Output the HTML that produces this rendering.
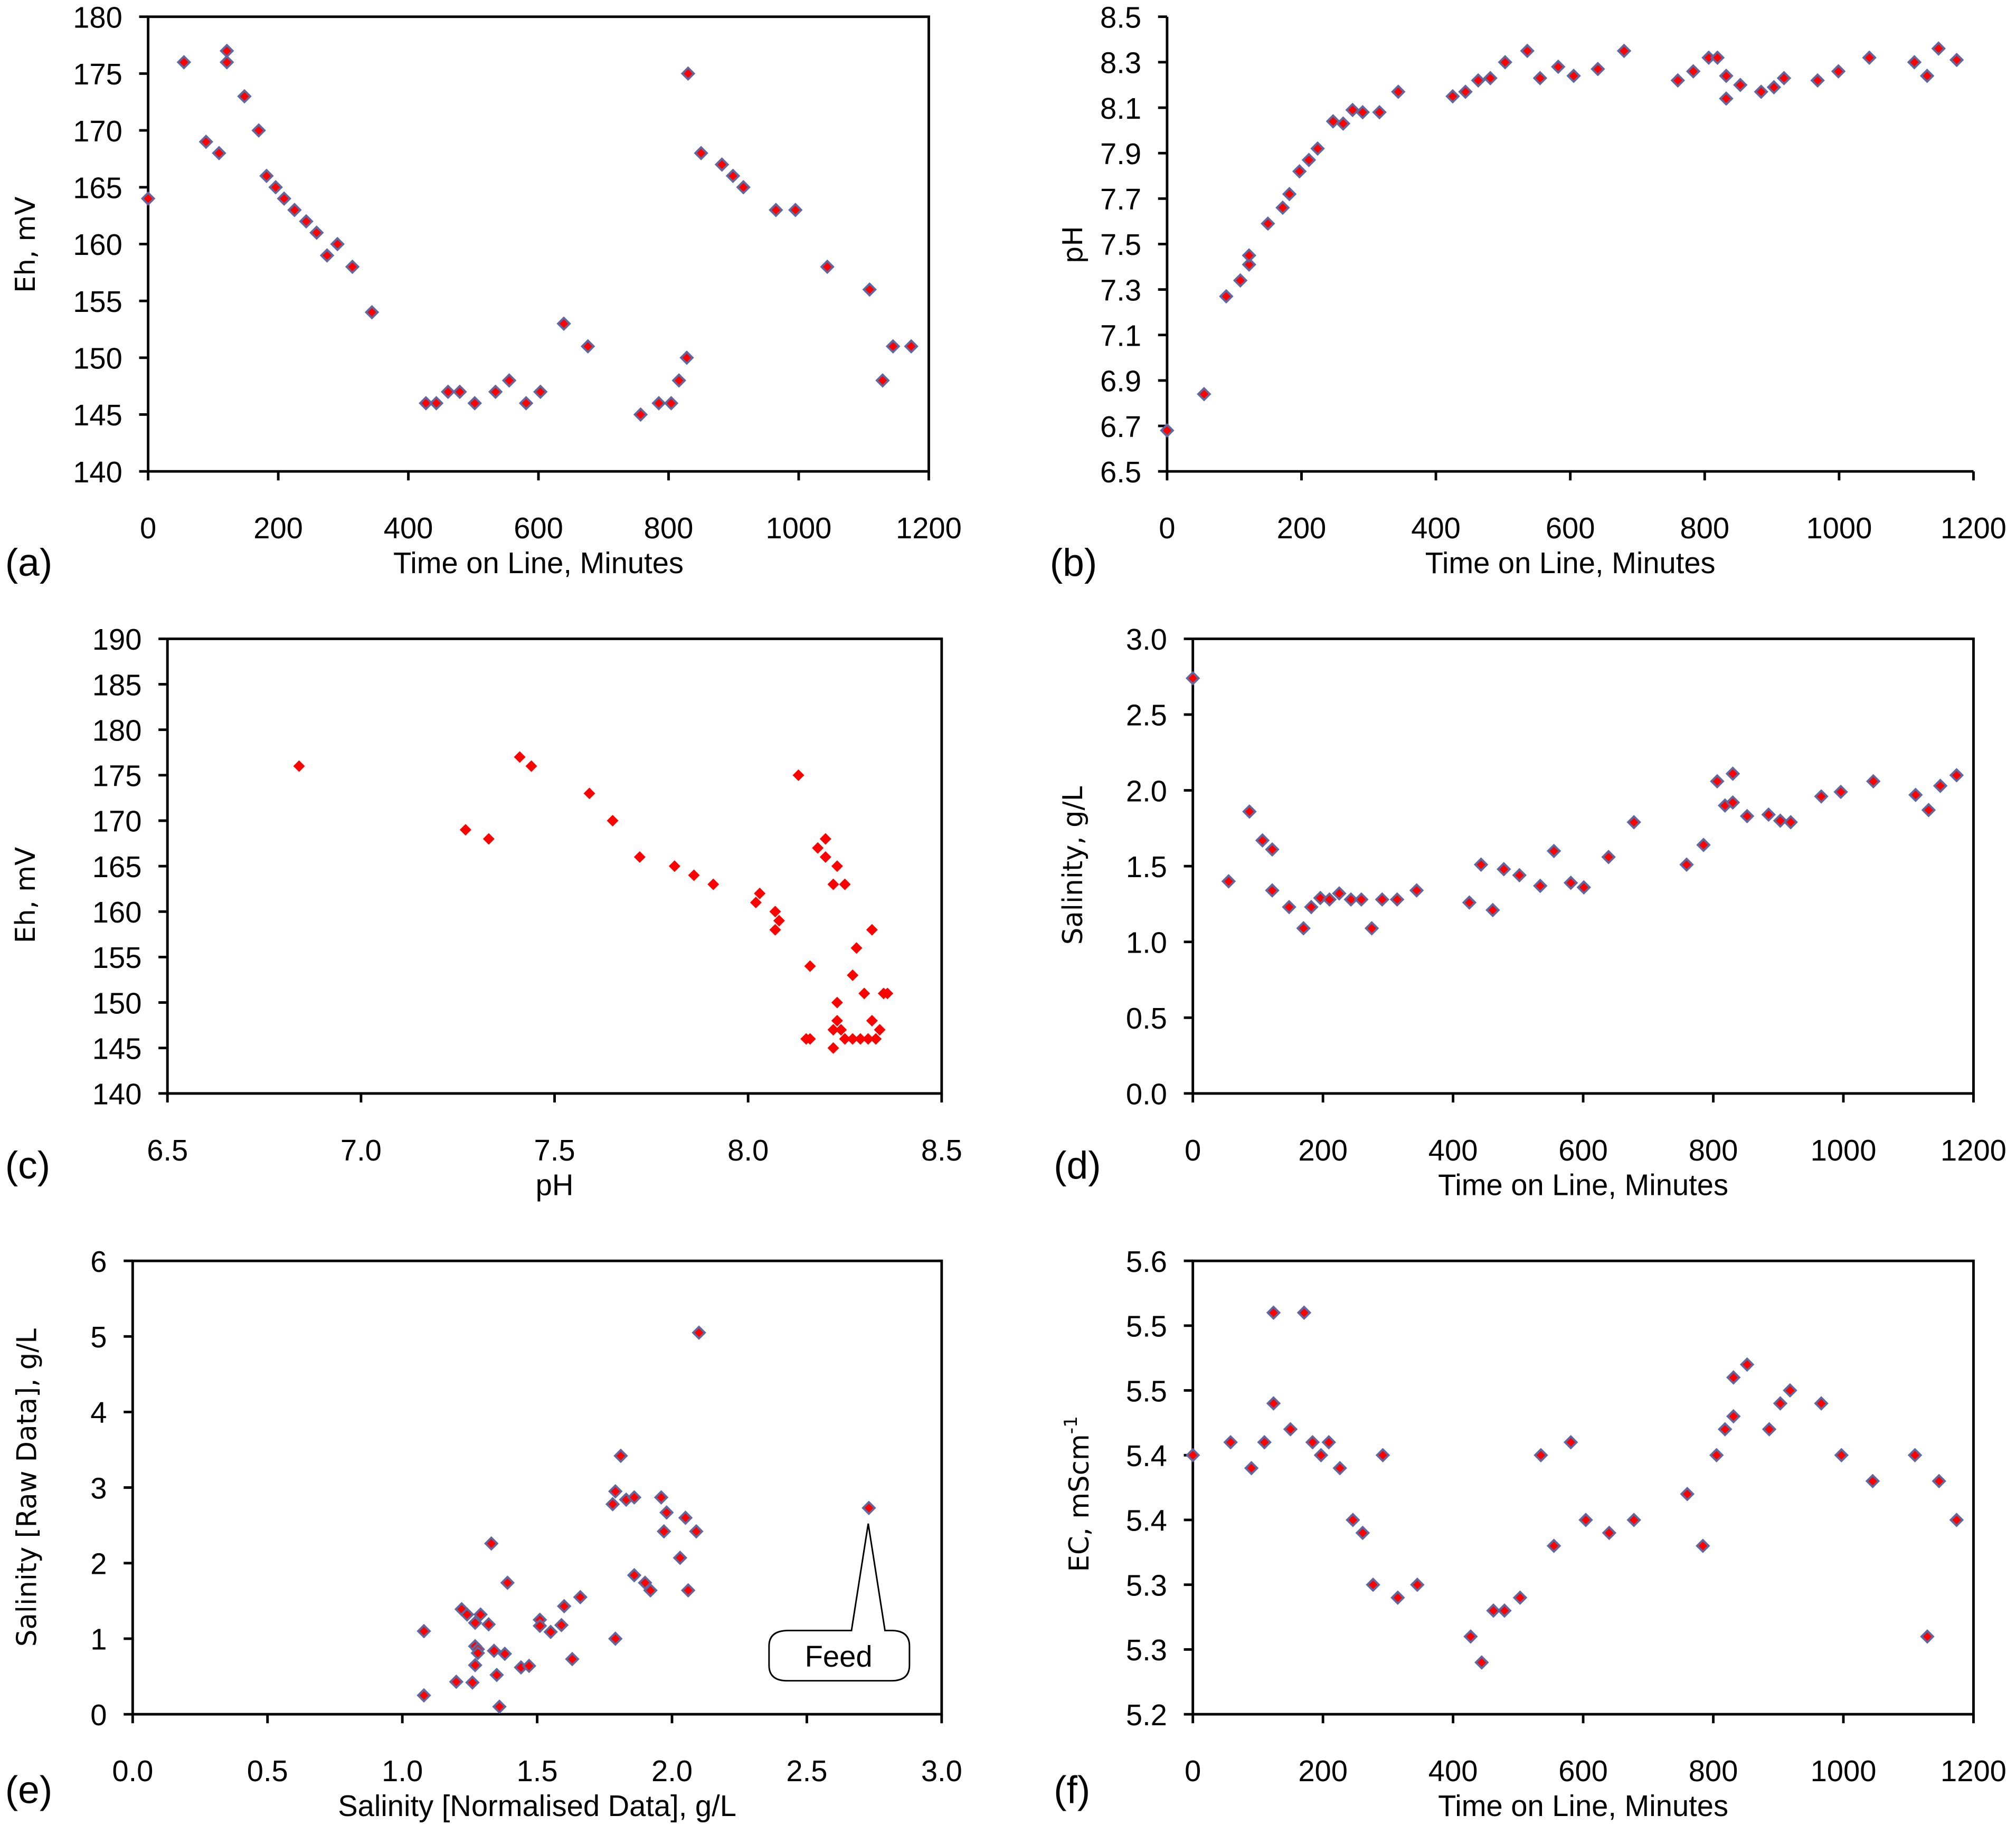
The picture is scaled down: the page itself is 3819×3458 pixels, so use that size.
<!DOCTYPE html>
<html><head><meta charset="utf-8"><style>
html,body{margin:0;padding:0;background:#fff;}
svg{display:block;}
.num{font-family:"Liberation Sans Narrow","Liberation Sans",sans-serif;font-size:23px;fill:#000;}
.ttl{font-family:"Liberation Sans Narrow","Liberation Sans",sans-serif;font-size:23px;fill:#000;}
.yttl{font-family:"DejaVu Sans","Liberation Sans",sans-serif;font-size:21px;fill:#000;}
.pl{font-family:"Liberation Sans","DejaVu Sans",sans-serif;font-size:30px;fill:#000;}
</style></head><body>
<svg id="fig" xmlns="http://www.w3.org/2000/svg" width="3819" height="3458" viewBox="0 0 1565 1417" preserveAspectRatio="none">
<rect x="0" y="0" width="1565" height="1417" fill="#fff"/>
</svg>
<script>
// ---- (a) Eh vs time
const aTime=[0,55,89,109,121,121,148,170,182,196,209,225,243,259,275,291,314,344,427,443,461,479,502,534,555,581,603,639,676,757,785,804,816,828,830,850,882,899,915,965,995,1044,1109,1129,1145,1173];
const aEh=[164,176,169,168,177,176,173,170,166,165,164,163,162,161,159,160,158,154,146,146,147,147,146,147,148,146,147,153,151,145,146,146,148,150,175,168,167,166,165,163,163,158,156,148,151,151];
// ---- (b) pH vs time
const bTime=[0,55,88,109,122,122,150,172,182,197,211,224,247,262,276,291,316,344,425,444,463,481,503,536,555,582,605,641,680,760,783,806,819,832,832,853,884,903,918,968,999,1045,1112,1131,1148,1175];
const bPH=[6.68,6.84,7.27,7.34,7.41,7.45,7.59,7.66,7.72,7.82,7.87,7.92,8.04,8.03,8.09,8.08,8.08,8.17,8.15,8.17,8.22,8.23,8.30,8.35,8.23,8.28,8.24,8.27,8.35,8.22,8.26,8.32,8.32,8.24,8.14,8.20,8.17,8.19,8.23,8.22,8.26,8.32,8.30,8.24,8.36,8.31];
// ---- (c) Eh vs pH
const cPH=[6.84,7.27,7.33,7.41,7.44,7.59,7.65,7.72,7.81,7.86,7.91,8.02,8.03,8.07,8.08,8.07,8.13,8.15,8.16,8.16,8.18,8.20,8.20,8.22,8.23,8.25,8.22,8.22,8.23,8.24,8.23,8.25,8.27,8.27,8.28,8.29,8.31,8.30,8.32,8.32,8.33,8.34,8.35,8.36];
const cEh=[176,169,168,177,176,173,170,166,165,164,163,161,162,160,159,158,175,146,146,154,167,168,166,163,165,163,145,147,148,147,150,146,153,146,156,146,146,151,158,148,146,147,151,151];
// ---- (d) Salinity vs time
const dTime=[0,55,87,107,122,122,148,170,182,196,210,225,243,259,275,291,314,344,425,443,461,478,502,534,555,581,601,639,678,759,785,806,818,830,830,852,885,903,919,966,996,1046,1111,1131,1149,1174];
const dSal=[2.74,1.40,1.86,1.67,1.61,1.34,1.23,1.09,1.23,1.29,1.28,1.32,1.28,1.28,1.09,1.28,1.28,1.34,1.26,1.51,1.21,1.48,1.44,1.37,1.60,1.39,1.36,1.56,1.79,1.51,1.64,2.06,1.90,2.11,1.92,1.83,1.84,1.80,1.79,1.96,1.99,2.06,1.97,1.87,2.03,2.10];
// ---- (e) Raw vs normalised salinity
const eNorm=[1.08,1.08,1.20,1.22,1.24,1.26,1.27,1.27,1.28,1.28,1.27,1.29,1.32,1.33,1.34,1.35,1.36,1.38,1.39,1.44,1.47,1.51,1.51,1.55,1.59,1.60,1.63,1.66,1.78,1.79,1.79,1.81,1.83,1.86,1.86,1.90,1.92,1.96,1.97,1.98,2.03,2.05,2.06,2.09,2.10,2.73];
const eRaw=[1.10,0.25,0.43,1.39,1.32,0.42,1.21,0.90,0.86,0.81,0.65,1.32,1.19,2.26,0.84,0.52,0.10,0.80,1.74,0.62,0.64,1.25,1.17,1.09,1.18,1.43,0.73,1.55,2.78,2.95,1.00,3.42,2.84,2.87,1.84,1.74,1.64,2.87,2.42,2.67,2.07,2.60,1.64,2.42,5.05,2.73];
// ---- (f) EC vs time
const fTime=[0,58,90,110,124,124,150,171,184,197,209,226,246,261,277,292,315,345,427,444,462,479,503,535,555,581,604,640,678,760,784,805,818,831,831,852,886,903,918,966,997,1045,1110,1129,1147,1174];
const fEC=[5.4,5.41,5.39,5.41,5.51,5.44,5.42,5.51,5.41,5.4,5.41,5.39,5.35,5.34,5.3,5.4,5.29,5.3,5.26,5.24,5.28,5.28,5.29,5.4,5.33,5.41,5.35,5.34,5.35,5.37,5.33,5.4,5.42,5.46,5.43,5.47,5.42,5.44,5.45,5.44,5.4,5.38,5.4,5.26,5.38,5.35];
// tick labels
const timeTicks=[0,200,400,600,800,1000,1200];
const aTicks=[140,145,150,155,160,165,170,175,180];
const bTicks=[6.5,6.7,6.9,7.1,7.3,7.5,7.7,7.9,8.1,8.3,8.5];
const cXTicks=[6.5,7.0,7.5,8.0,8.5];
const cYTicks=[140,145,150,155,160,165,170,175,180,185,190];
const dTicks=[0,0.5,1.0,1.5,2.0,2.5,3.0];
const eXTicks=[0,0.5,1.0,1.5,2.0,2.5,3.0];
const eYTicks=[0,1,2,3,4,5,6];
const fTicks=[5.2,5.25,5.3,5.35,5.4,5.45,5.5,5.55];
const fTickLabels=["5.2","5.3","5.3","5.4","5.4","5.5","5.5","5.6"];

const NS="http://www.w3.org/2000/svg";
const svg=document.getElementById('fig');
function mk(tag,attrs,parent){const e=document.createElementNS(NS,tag);for(const k in attrs)e.setAttribute(k,attrs[k]);(parent||svg).appendChild(e);return e;}

function panel(o){
  const g=mk('g',{});
  
  
  const sx=v=>o.x0+(v-o.xmin)/(o.xmax-o.xmin)*(o.x1-o.x0);
  const sy=v=>o.y0-(v-o.ymin)/(o.ymax-o.ymin)*(o.y0-o.y1);
  if(o.box){const r=mk('rect',{x:o.x0,y:o.y1,width:o.x1-o.x0,height:o.y0-o.y1,fill:'none',stroke:'#000','stroke-width':2},g);
    }
  else{
    const ya=mk('line',{x1:o.x0,y1:o.y0,x2:o.x0,y2:o.y1,stroke:'#000','stroke-width':2},g);
    
    const xa=mk('line',{x1:o.x0,y1:o.y0,x2:o.x1,y2:o.y0,stroke:'#000','stroke-width':2},g);
    
  }
  o.xt.forEach((v,i)=>{const x=sx(v);
    mk('line',{x1:x,y1:o.y0,x2:x,y2:o.y0+7,stroke:'#000','stroke-width':2},g);
    const t=mk('text',{x:x,y:o.y0+52,'text-anchor':'middle',class:'num'},g);
    
    t.textContent=o.xl?o.xl[i]:v;});
  o.yt.forEach((v,i)=>{const y=sy(v);
    mk('line',{x1:o.x0-7,y1:y,x2:o.x0,y2:y,stroke:'#000','stroke-width':2},g);
    const t=mk('text',{x:o.x0-20,y:y+8.5,'text-anchor':'end',class:'num'},g);
    
    t.textContent=o.yl?o.yl[i]:v;});
  const xt=mk('text',{x:(o.x0+o.x1)/2,y:o.y0+79,'text-anchor':'middle',class:'ttl'},g);
  
  xt.textContent=o.xtitle;
  const yt=mk('text',{x:0,y:0,'text-anchor':'middle',class:'yttl',transform:`translate(${o.ytx},${o.yty}) rotate(-90)`},g);
  
  if(o.sup){yt.textContent=o.ytitle;const ts=mk('tspan',{dy:-9,'font-size':14},yt);ts.textContent=o.sup;}
  else yt.textContent=o.ytitle;
  const pl=mk('text',{x:o.lx,y:o.ly,class:'pl'},g);
  
  pl.textContent='('+o.id+')';
  o.xs.forEach((xv,i)=>{const cx=sx(xv),cy=sy(o.ys[i]);
    const d=`M${cx},${cy-4.5}L${cx+4.5},${cy}L${cx},${cy+4.5}L${cx-4.5},${cy}Z`;
    const p=mk('path',{d:d,fill:'#ff0000',stroke:o.red?'none':'#6068a0','stroke-width':o.red?0:1.6},g);
    
    
  });
  return {g,sx,sy};
}
panel({id:'a',x0:115,x1:721,y0:366,y1:13,xmin:0,xmax:1200,ymin:140,ymax:180,xt:timeTicks,yt:aTicks,box:true,
  xs:aTime,ys:aEh,xtitle:'Time on Line, Minutes',ytitle:'Eh, mV',ytx:27,yty:190,lx:4,ly:447});
panel({id:'b',x0:906,x1:1532,y0:366,y1:13,xmin:0,xmax:1200,ymin:6.5,ymax:8.5,xt:timeTicks,yt:bTicks,yl:bTicks.map(v=>v.toFixed(1)),box:false,
  xs:bTime,ys:bPH,xtitle:'Time on Line, Minutes',ytitle:'pH',ytx:840,yty:190,lx:815,ly:447});
panel({id:'c',x0:130,x1:731,y0:849,y1:496,xmin:6.5,xmax:8.5,ymin:140,ymax:190,xt:cXTicks,xl:cXTicks.map(v=>v.toFixed(1)),yt:cYTicks,box:true,red:true,
  xs:cPH,ys:cEh,xtitle:'pH',ytitle:'Eh, mV',ytx:27,yty:695,lx:4,ly:915});
panel({id:'d',x0:926,x1:1532,y0:849,y1:496,xmin:0,xmax:1200,ymin:0,ymax:3,xt:timeTicks,yt:dTicks,yl:dTicks.map(v=>v.toFixed(1)),box:true,
  xs:dTime,ys:dSal,xtitle:'Time on Line, Minutes',ytitle:'Salinity, g/L',ytx:840,yty:672,lx:818,ly:915});
panel({id:'e',x0:103,x1:731,y0:1331,y1:979,xmin:0,xmax:3,ymin:0,ymax:6,xt:eXTicks,xl:eXTicks.map(v=>v.toFixed(1)),yt:eYTicks,box:true,
  xs:eNorm,ys:eRaw,xtitle:'Salinity [Normalised Data], g/L',ytitle:'Salinity [Raw Data], g/L',ytx:28,yty:1155,lx:4,ly:1400});
panel({id:'f',x0:926,x1:1532,y0:1331,y1:979,xmin:0,xmax:1200,ymin:5.2,ymax:5.55,xt:timeTicks,yt:fTicks,yl:fTickLabels,box:true,
  xs:fTime,ys:fEC,xtitle:'Time on Line, Minutes',ytitle:'EC, mScm',sup:'-1',ytx:845,yty:1160,lx:818,ly:1400});
// Feed callout
const co=mk('path',{d:'M612,1266 L661,1266 L674,1183 L687,1266 L692,1266 Q706,1266 706,1278 L706,1293 Q706,1305 692,1305 L611,1305 Q597,1305 597,1293 L597,1278 Q597,1266 612,1266 Z',fill:'#fff',stroke:'#000','stroke-width':1.2});


const ct=mk('text',{x:651,y:1294,'text-anchor':'middle',class:'ttl'});


ct.textContent='Feed';
</script>
</body></html>
